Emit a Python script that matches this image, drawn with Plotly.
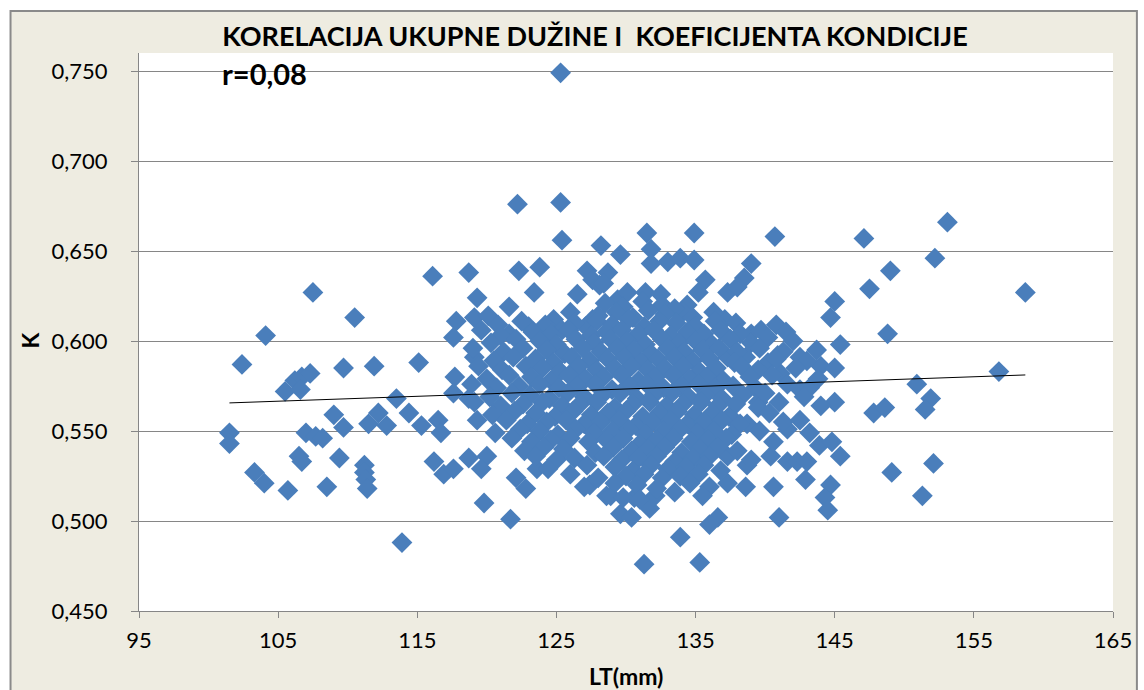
import numpy as np
import plotly.graph_objects as go

# ---- data: LT (mm) and condition coefficient K ----
lt_left = [101.5, 101.5, 102.4, 104.1, 107.5, 105.5, 106.2, 106.7, 107.3, 106.6,
           103.3, 104.0, 105.7, 108.5, 106.5, 106.7, 107.0, 107.7, 108.2, 109.0,
           109.4, 109.7, 110.5, 111.9, 115.1, 109.7, 111.5, 112.2, 112.8, 113.5,
           114.4, 115.3, 111.2, 111.2, 111.3, 111.4, 113.9, 116.1, 116.5, 116.7,
           116.2, 116.9]
k_left = [0.549, 0.543, 0.587, 0.603, 0.627, 0.572, 0.578, 0.580, 0.582, 0.573,
          0.527, 0.521, 0.517, 0.519, 0.536, 0.533, 0.549, 0.547, 0.546, 0.559,
          0.535, 0.585, 0.613, 0.586, 0.588, 0.552, 0.554, 0.560, 0.553, 0.568,
          0.560, 0.553, 0.531, 0.527, 0.523, 0.518, 0.488, 0.636, 0.556, 0.549,
          0.533, 0.526]

lt_mid = [118.7, 117.8, 119.1, 117.6, 117.7, 119.1, 117.6, 118.7, 119.3, 119.3,
          117.6, 118.7, 120.0, 119.6, 119.8, 122.1, 122.8, 123.6, 121.7, 127.4,
          128.6]
k_mid = [0.638, 0.611, 0.613, 0.602, 0.580, 0.591, 0.571, 0.568, 0.556, 0.624,
         0.529, 0.535, 0.536, 0.529, 0.510, 0.524, 0.518, 0.529, 0.501, 0.520,
         0.514]

lt_top = [125.3, 122.2, 125.3, 125.4, 128.2, 122.3, 123.8, 127.2, 123.4, 126.5,
          127.6, 128.1, 121.6, 120.1, 123.0, 121.6, 124.8, 125.4, 127.6, 127.1,
          131.5, 134.9, 129.6, 131.8, 131.8, 133.0, 133.9, 134.9, 135.7, 135.2,
          128.7, 128.4, 129.4, 130.1, 131.4, 132.5, 134.4, 134.1, 137.3, 140.7,
          139.0, 138.5, 138.0, 145.0, 144.7, 137.1, 137.9, 139.0, 139.7, 140.2]
k_top = [0.749, 0.676, 0.677, 0.656, 0.653, 0.639, 0.641, 0.639, 0.627, 0.626,
         0.634, 0.631, 0.619, 0.614, 0.608, 0.604, 0.612, 0.606, 0.612, 0.608,
         0.660, 0.660, 0.648, 0.651, 0.643, 0.644, 0.646, 0.645, 0.634, 0.627,
         0.638, 0.632, 0.623, 0.627, 0.627, 0.626, 0.620, 0.616, 0.627, 0.658,
         0.643, 0.635, 0.630, 0.622, 0.613, 0.612, 0.610, 0.604, 0.606, 0.602]

lt_rmid = [140.9, 142.5, 143.7, 145.4, 137.3, 138.6, 140.2, 141.1, 144.0, 145.0,
           142.5, 143.2, 139.3, 139.5, 145.0, 137.5, 138.7, 139.5, 141.6, 142.5,
           143.2, 143.9, 144.8, 145.4, 140.4, 141.6, 142.3, 143.0, 138.7, 137.3,
           140.6, 142.9, 138.6, 137.3, 144.7, 144.3, 144.5, 141.0, 136.6, 136.0]
k_rmid = [0.592, 0.591, 0.595, 0.598, 0.591, 0.591, 0.588, 0.582, 0.586, 0.585,
          0.573, 0.574, 0.574, 0.566, 0.566, 0.558, 0.554, 0.563, 0.551, 0.556,
          0.549, 0.542, 0.544, 0.536, 0.536, 0.533, 0.533, 0.533, 0.531, 0.536,
          0.519, 0.523, 0.519, 0.521, 0.520, 0.513, 0.506, 0.502, 0.502, 0.498]

lt_low = [128.9, 129.6, 130.4, 130.6, 131.7, 132.1, 133.5, 133.9, 131.3, 135.3]
k_low = [0.514, 0.504, 0.502, 0.513, 0.507, 0.514, 0.516, 0.491, 0.476, 0.477]

lt_right = [147.1, 153.1, 152.2, 149.0, 147.5, 158.7, 148.8, 156.8, 150.9, 151.9,
            151.5, 147.8, 148.6, 149.1, 152.1, 151.3]
k_right = [0.657, 0.666, 0.646, 0.639, 0.629, 0.627, 0.604, 0.583, 0.576, 0.568,
           0.562, 0.560, 0.563, 0.527, 0.532, 0.514]

# dense core of the cloud (read row by row)
lt_core = [
    128.5, 129.8, 131.2, 132.6, 133.5,
    126.0, 128.0, 129.3, 130.5, 131.6, 132.8, 134.8, 136.3,
    120.8, 122.5, 124.2, 126.3, 127.9, 129.0, 130.2, 131.3, 132.4, 133.6, 135.0, 136.4, 140.8,
    119.6, 121.0, 123.3, 124.6, 125.9, 127.5, 128.6, 129.7, 130.9, 132.0, 133.2, 134.4, 135.6, 136.8, 138.2, 141.5,
    120.3, 122.1, 123.8, 125.0, 126.4, 127.7, 128.9, 130.1, 131.4, 132.6, 133.8, 135.0, 136.2, 137.5, 139.0, 142.0,
    119.0, 121.2, 122.6, 124.3, 125.6, 126.9, 128.2, 129.4, 130.6, 131.8, 133.0, 134.2, 135.5, 136.7, 138.0, 139.6, 141.3,
    120.5, 121.9, 123.5, 124.8, 126.1, 127.4, 128.7, 129.9, 131.1, 132.3, 133.5, 134.8, 136.0, 137.8, 140.8, 143.0,
    119.4, 121.1, 122.8, 124.0, 125.3, 126.6, 127.9, 129.2, 130.4, 131.6, 132.8, 134.1, 135.3, 136.5, 138.3, 139.5, 142.2,
    120.0, 121.6, 123.2, 124.6, 125.9, 127.1, 128.4, 129.7, 130.9, 132.1, 133.4, 134.6, 135.8, 137.0, 138.9, 140.5, 143.8,
    118.9, 120.7, 122.3, 123.8, 125.2, 126.5, 127.8, 129.0, 130.3, 131.5, 132.7, 134.0, 135.2, 136.4, 137.7, 141.6,
    120.2, 121.8, 123.1, 124.5, 125.8, 127.0, 128.3, 129.6, 130.8, 132.0, 133.3, 134.5, 135.7, 136.9, 138.4, 140.0, 142.8,
    119.1, 121.0, 122.6, 124.0, 125.4, 126.7, 127.9, 129.2, 130.5, 131.7, 132.9, 134.1, 135.4, 136.6, 137.9, 141.0, 144.0,
    120.4, 122.0, 123.5, 124.9, 126.2, 127.5, 128.7, 130.0, 131.2, 132.4, 133.7, 134.9, 136.2, 137.4, 140.3,
    121.4, 122.9, 124.3, 125.7, 127.0, 128.2, 129.5, 130.7, 131.9, 133.2, 134.4, 135.6, 136.9, 138.2, 141.3,
    120.6, 122.4, 123.8, 125.1, 126.4, 127.7, 129.0, 130.2, 131.4, 132.7, 133.9, 135.1, 136.3, 137.6, 139.6,
    121.8, 123.2, 124.6, 126.0, 127.3, 128.6, 129.8, 131.0, 132.2, 133.4, 134.7, 135.9, 137.2, 140.6,
    122.7, 124.1, 125.5, 127.8, 129.1, 130.4, 131.6, 132.8, 134.0, 135.3, 136.6, 138.0,
    123.5, 125.0, 126.3, 128.4, 129.7, 130.9, 132.2, 133.5, 134.8, 136.0, 139.0,
    124.4, 127.2, 129.2, 130.5, 131.8, 133.0, 134.3, 135.6, 136.8,
    126.0, 128.0, 130.0, 131.3, 132.6, 133.9, 135.2,
    127.0, 129.2, 130.8, 132.2, 134.6, 136.0,
    129.8, 131.0, 135.5,
]
k_core = [
    0.621, 0.619, 0.622, 0.620, 0.618,
    0.616, 0.614, 0.616, 0.613, 0.617, 0.615, 0.613, 0.616,
    0.609, 0.611, 0.609, 0.610, 0.611, 0.609, 0.612, 0.608, 0.611, 0.610, 0.608, 0.611, 0.609,
    0.606, 0.603, 0.605, 0.604, 0.606, 0.603, 0.605, 0.606, 0.604, 0.606, 0.603, 0.605, 0.604, 0.606, 0.604, 0.605,
    0.599, 0.601, 0.600, 0.598, 0.601, 0.599, 0.601, 0.600, 0.598, 0.601, 0.599, 0.600, 0.598, 0.601, 0.599, 0.600,
    0.596, 0.594, 0.596, 0.595, 0.593, 0.596, 0.594, 0.596, 0.595, 0.593, 0.596, 0.594, 0.595, 0.596, 0.594, 0.596, 0.594,
    0.589, 0.591, 0.590, 0.588, 0.591, 0.589, 0.590, 0.591, 0.588, 0.590, 0.591, 0.589, 0.590, 0.588, 0.590, 0.589,
    0.586, 0.584, 0.586, 0.585, 0.583, 0.586, 0.584, 0.585, 0.586, 0.584, 0.585, 0.586, 0.583, 0.585, 0.586, 0.584, 0.585,
    0.579, 0.581, 0.580, 0.578, 0.581, 0.579, 0.580, 0.581, 0.578, 0.580, 0.581, 0.579, 0.580, 0.578, 0.580, 0.581, 0.579,
    0.576, 0.574, 0.575, 0.576, 0.574, 0.575, 0.576, 0.573, 0.575, 0.576, 0.574, 0.575, 0.576, 0.574, 0.575, 0.576,
    0.569, 0.571, 0.570, 0.568, 0.571, 0.569, 0.570, 0.571, 0.568, 0.570, 0.571, 0.569, 0.570, 0.568, 0.570, 0.571, 0.569,
    0.566, 0.564, 0.565, 0.566, 0.564, 0.565, 0.566, 0.563, 0.565, 0.566, 0.564, 0.565, 0.566, 0.564, 0.565, 0.566, 0.564,
    0.559, 0.561, 0.560, 0.558, 0.561, 0.559, 0.560, 0.561, 0.558, 0.560, 0.561, 0.559, 0.560, 0.558, 0.560,
    0.556, 0.554, 0.555, 0.556, 0.554, 0.555, 0.556, 0.553, 0.555, 0.556, 0.554, 0.555, 0.556, 0.554, 0.555,
    0.549, 0.551, 0.550, 0.548, 0.551, 0.549, 0.550, 0.551, 0.548, 0.550, 0.551, 0.549, 0.550, 0.548, 0.550,
    0.546, 0.544, 0.545, 0.546, 0.544, 0.545, 0.546, 0.543, 0.545, 0.546, 0.544, 0.545, 0.546, 0.544,
    0.539, 0.541, 0.540, 0.538, 0.541, 0.539, 0.540, 0.541, 0.538, 0.540, 0.541, 0.539,
    0.536, 0.534, 0.535, 0.536, 0.534, 0.535, 0.536, 0.533, 0.535, 0.536, 0.534,
    0.529, 0.531, 0.530, 0.528, 0.531, 0.529, 0.530, 0.531, 0.528,
    0.526, 0.524, 0.525, 0.526, 0.524, 0.525, 0.526,
    0.519, 0.521, 0.520, 0.518, 0.521, 0.519,
    0.513, 0.512, 0.514,
]

x_ticks = [95, 105, 115, 125, 135, 145, 155, 165]
y_ticks = [0.45, 0.50, 0.55, 0.60, 0.65, 0.70, 0.75]
y_tick_text = ["0,450", "0,500", "0,550", "0,600", "0,650", "0,700", "0,750"]

title_text = "KORELACIJA UKUPNE DUŽINE I  KOEFICIJENTA KONDICIJE"
r_text = "r=0,08"

lt = lt_left + lt_mid + lt_top + lt_rmid + lt_low + lt_right + lt_core
k = k_left + k_mid + k_top + k_rmid + k_low + k_right + k_core

# linear trend line from the data
slope, intercept = np.polyfit(lt, k, 1)
tx = [min(lt), max(lt)]
ty = [slope * v + intercept for v in tx]

FONT = "Lato"
BLUE = "#4A7EBB"
GRID = "#868686"

fig = go.Figure()
fig.add_trace(go.Scatter(
    x=lt, y=k, mode="markers",
    marker=dict(symbol="diamond", size=16, color=BLUE, line=dict(width=0)),
    hoverinfo="x+y", showlegend=False,
))
fig.add_trace(go.Scatter(
    x=tx, y=ty, mode="lines", line=dict(color="black", width=1),
    hoverinfo="skip", showlegend=False,
))

W, H = 1144, 690
L, R, T, B = 139, 27, 53, 79
pw, ph = W - L - R, H - T - B


def px_x(p):
    return (p - L) / pw


def px_y(p):
    return (H - B - p) / ph


fig.update_layout(
    width=W, height=H,
    margin=dict(l=L, r=R, t=T, b=B, pad=0),
    paper_bgcolor="white",
    plot_bgcolor="white",
    showlegend=False,
    font=dict(family=FONT, color="black"),
    title=dict(text="<b>" + title_text + "</b>", x=595 / W, xanchor="center",
               y=1 - 37 / H, yanchor="middle", yref="container",
               font=dict(family=FONT, size=27, color="black")),
    xaxis=dict(range=[95, 165], tickvals=x_ticks, ticktext=[str(v) for v in x_ticks],
               showgrid=False, zeroline=False, showline=True, linecolor=GRID, linewidth=1,
               ticks="outside", ticklen=6, tickcolor=GRID, tickwidth=1,
               ticklabelstandoff=4,
               tickfont=dict(family=FONT, size=22, color="black"), fixedrange=True),
    yaxis=dict(range=[0.45, 0.76], tickvals=y_ticks, ticktext=y_tick_text,
               showgrid=True, gridcolor=GRID, gridwidth=1, zeroline=False,
               showline=True, linecolor=GRID, linewidth=1,
               ticks="outside", ticklen=7, tickcolor=GRID, tickwidth=1,
               ticklabelstandoff=19,
               tickfont=dict(family=FONT, size=22, color="black"), fixedrange=True),
    shapes=[
        dict(type="rect", xref="paper", yref="paper", layer="below",
             x0=px_x(10), x1=px_x(1141), y0=px_y(692), y1=px_y(11),
             fillcolor="#EEECE1", line=dict(color="#8A8A8A", width=2)),
        dict(type="rect", xref="paper", yref="paper", layer="below",
             x0=0, x1=1, y0=0, y1=1, fillcolor="white", line=dict(width=0)),
    ],
    annotations=[
        dict(text="<b>K</b>", xref="paper", yref="paper", x=px_x(30), y=px_y(340),
             xanchor="center", yanchor="middle", textangle=-90, showarrow=False,
             font=dict(family=FONT, size=23, color="black")),
        dict(text="<b>LT(mm)</b>", xref="paper", yref="paper", x=px_x(628), y=px_y(676),
             xanchor="center", yanchor="middle", showarrow=False,
             font=dict(family=FONT, size=23, color="black")),
        dict(text="<b>" + r_text + "</b>", xref="paper", yref="paper", x=px_x(220), y=px_y(74),
             xanchor="left", yanchor="middle", showarrow=False,
             font=dict(family=FONT, size=29, color="black")),
    ],
)

fig.write_html("out.html", config={"displayModeBar": False},
               post_script="document.body.style.margin='0';document.body.style.overflow='hidden';")
